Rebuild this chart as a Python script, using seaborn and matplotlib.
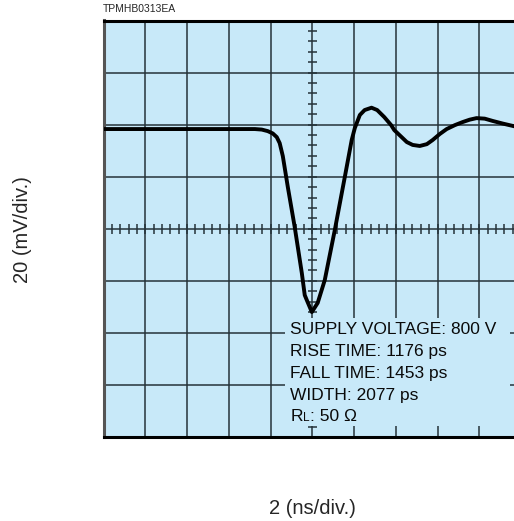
import numpy as np
import matplotlib
matplotlib.use("Agg")
import matplotlib.pyplot as plt
import seaborn as sns
from matplotlib.patches import Rectangle

# waveform (ns, mV), origin at screen centre
time_ns = [-10.0, -6.0, -2.75, -2.42, -2.13, -1.89, -1.70, -1.56, -1.41, -1.17,
           -0.84, -0.50, -0.36, -0.22, -0.02, 0.26, 0.60, 1.08, 1.56, 1.89,
           2.04, 2.28, 2.51, 2.84, 3.11, 3.45, 3.78, 3.93, 4.53, 4.81, 5.15,
           5.49, 5.77, 6.11, 6.44, 6.83, 7.21, 7.54, 7.87, 8.26, 8.65, 9.13,
           9.66, 10.05]
amp_mv = [38.3, 38.3, 38.3, 38.1, 37.5, 36.6, 35.2, 32.9, 27.9, 16.0,
          0.65, -17.0, -25.5, -28.2, -32.0, -28.5, -19.7, -0.5, 19.9, 34.1,
          38.7, 43.7, 45.6, 46.5, 45.6, 42.9, 39.8, 37.9, 33.3, 32.2, 31.8,
          32.5, 34.1, 36.4, 38.3, 39.8, 41.0, 41.9, 42.5, 42.3, 41.4, 40.4,
          39.4, 38.8]

info_lines = ["SUPPLY VOLTAGE: 800 V", "RISE TIME: 1176 ps",
              "FALL TIME: 1453 ps", "WIDTH: 2077 ps"]
load_value = ": 50 \u03a9"
code_label = "TPMHB0313EA"
x_label = "2 (ns/div.)"
y_label = "20 (mV/div.)"

screen_bg = "#C8E9F9"
grid_col = "#25333a"

sns.set_style("white", {"axes.facecolor": screen_bg})
plt.rcParams["font.family"] = ["Liberation Sans", "DejaVu Sans"]

fig = plt.figure(figsize=(5.14, 5.21), dpi=100)
ax = fig.add_axes([103.5 / 514, 84 / 521, 417.5 / 514, 416.5 / 521])

sns.lineplot(x=time_ns, y=amp_mv, sort=False, color="black", lw=2.8,
             ax=ax, zorder=3)

ax.set_xlim(-10, 10)
ax.set_ylim(-80, 80)
ax.set_xticks(np.arange(-10, 10.1, 2))
ax.set_yticks(np.arange(-80, 80.1, 20))
ax.grid(True, color=grid_col, lw=1.1)
ax.set_axisbelow(True)
ax.tick_params(length=0, labelbottom=False, labelleft=False)
ax.set_xlabel("")
ax.set_ylabel("")
for side, sp in ax.spines.items():
    sp.set_visible(True)
    sp.set_color("black")
    sp.set_linewidth(2.2)
ax.spines["left"].set_color("#555555")

# graticule marks on the centre cross
ax.vlines(np.arange(-10, 10.01, 0.4), -1.9, 1.9, color=grid_col, lw=1.1, zorder=1.5)
ax.hlines(np.arange(-80, 80.01, 4), -0.22, 0.22, color=grid_col, lw=1.1, zorder=1.5)

# info panel hides the graticule behind it
ax.add_patch(Rectangle((-1.3, -75.8), 10.77, 41.6, facecolor=screen_bg,
                       edgecolor="none", zorder=2))

txt_col = "#0a0a0a"
y0 = 1 - 330 / 521
for i, line in enumerate(info_lines):
    fig.text(290.5 / 514, y0 - i * 21.7 / 521, line, fontsize=12.5,
             va="center", ha="left", color=txt_col)
yr = y0 - 4 * 21.7 / 521
fig.text(290.5 / 514, yr, "R", fontsize=12.5, va="center", ha="left", color=txt_col)
fig.text(303.5 / 514, yr - 1.5 / 521, "L", fontsize=8.5, va="center", ha="left", color=txt_col)
fig.text(310.5 / 514, yr, load_value, fontsize=12.5, va="center", ha="left", color=txt_col)

fig.text(103 / 514, 1 - 9.5 / 521, code_label, fontsize=7.5, va="center", ha="left")
fig.text(312 / 514, 1 - 509 / 521, x_label, fontsize=14.5, va="center", ha="center")
fig.text(23 / 514, 1 - 230 / 521, y_label, fontsize=14.5, va="center", ha="center",
         rotation=90)

fig.savefig("out.png", dpi=100)
